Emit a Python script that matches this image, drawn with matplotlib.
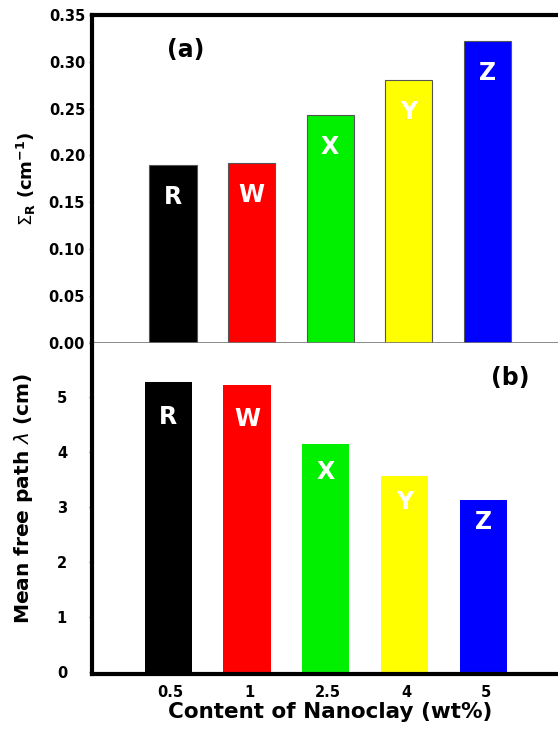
import numpy as np
import matplotlib.pyplot as plt

# nanoclay content (wt%) and sample names
contents = ['0.5', '1', '2.5', '4', '5']
samples = ['R', 'W', 'X', 'Y', 'Z']
colors = ['#000000', '#ff0000', '#00f000', '#ffff00', '#0000ff']

# macroscopic removal cross section (cm^-1)
sigma_r = [0.190, 0.192, 0.243, 0.281, 0.322]
# mean free path (cm)
mfp = [5.29, 5.22, 4.15, 3.58, 3.13]

W, H = 558, 729
fig = plt.figure(figsize=(W / 100, H / 100), dpi=100)
fig.patch.set_facecolor('white')

x = np.arange(len(samples))


def fy(py):
    return 1 - py / H


ax1 = fig.add_axes([92 / W, fy(342.5), 1 - 92 / W, fy(15) - fy(342.5)])
ax2 = fig.add_axes([92 / W, fy(674), 1 - 92 / W, fy(342.5) - fy(674)])

# (a) removal cross section
ax1.bar(x, sigma_r, width=0.6, color=colors, edgecolor='#555555', linewidth=0.8, zorder=2)
ax1.set_xlim(-1.03, 4.9)
ax1.set_ylim(0, 0.35)
ax1.set_yticks(np.arange(0, 0.351, 0.05))
ax1.set_yticklabels(['%.2f' % v for v in np.arange(0, 0.351, 0.05)])
ax1.set_xticks([])
ax1.spines['right'].set_visible(False)
ax1.spines['top'].set_linewidth(3)
ax1.spines['left'].set_linewidth(3)
ax1.spines['bottom'].set_linewidth(1.2)
ax1.spines['bottom'].set_color('#777777')
ax1.tick_params(axis='y', length=2, width=1, color='#888888', pad=3, labelsize=10.5)
for lab in ax1.get_yticklabels():
    lab.set_fontweight('bold')
ax1.set_ylabel(r'$\Sigma_{\mathbf{R}}$ (cm$^{\mathbf{-1}}$)', fontsize=13, fontweight='bold')
ax1.yaxis.set_label_coords(-0.116, 0.5)
ax1.text(0.20, 0.893, '(a)', transform=ax1.transAxes, fontsize=17, fontweight='bold',
         ha='center', va='center')
for xi, v, s in zip(x, sigma_r, samples):
    ax1.annotate(s, (xi, v), xytext=(0, -32), textcoords='offset pixels',
                 ha='center', va='center', color='white', fontsize=17, fontweight='bold')

# (b) mean free path
ax2.bar(x - 0.03, mfp, width=0.6, color=colors, edgecolor='none', zorder=2)
ax2.set_xlim(-1.0, 4.92)
ax2.set_ylim(-0.03, 6.0)
ax2.set_yticks(range(0, 6))
ax2.set_xticks(x)
ax2.set_xticklabels(contents)
ax2.spines['top'].set_visible(False)
ax2.spines['right'].set_visible(False)
ax2.spines['left'].set_linewidth(3)
ax2.spines['bottom'].set_linewidth(3)
ax2.tick_params(axis='y', length=2, width=1, color='#888888', pad=16, labelsize=10.5)
ax2.tick_params(axis='x', length=0, pad=8, labelsize=10.5)
for lab in ax2.get_yticklabels() + ax2.get_xticklabels():
    lab.set_fontweight('bold')
ax2.set_ylabel(r'Mean free path $\lambda$ (cm)', fontsize=14.5, fontweight='bold')
ax2.yaxis.set_label_coords(-0.122, 0.53)
ax2.set_xlabel('Content of Nanoclay (wt%)', fontsize=15.5, fontweight='bold')
ax2.xaxis.set_label_coords((330 - 92) / (W - 92), -0.085)
ax2.text(0.897, 0.893, '(b)', transform=ax2.transAxes, fontsize=17, fontweight='bold',
         ha='center', va='center')
label_drop = [-35, -34, -28, -26, -22]
for xi, v, s, d in zip(x - 0.03, mfp, samples, label_drop):
    ax2.annotate(s, (xi, v), xytext=(0, d), textcoords='offset pixels',
                 ha='center', va='center', color='white', fontsize=17, fontweight='bold')

fig.savefig('out.png', dpi=100, facecolor='white')
